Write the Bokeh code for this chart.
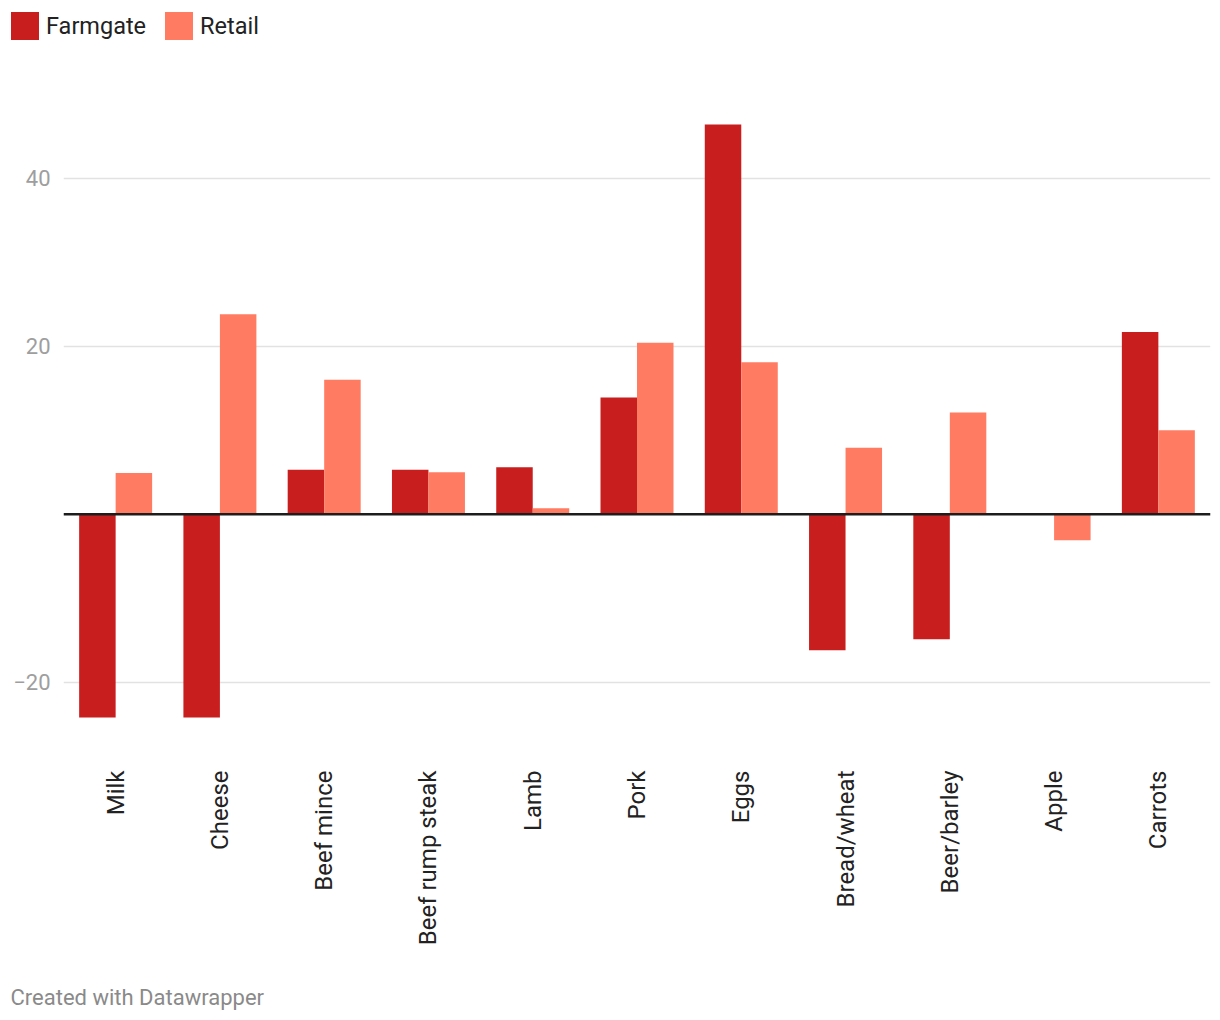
import math
from bokeh.plotting import figure
from bokeh.layouts import column
from bokeh.models import (ColumnDataSource, FixedTicker, Span, Legend, LegendItem,
                          Label, Range1d)
from bokeh.embed import file_html
from bokeh.resources import INLINE

# ---- data ----
categories = ["Milk", "Cheese", "Beef mince", "Beef rump steak", "Lamb", "Pork",
              "Eggs", "Bread/wheat", "Beer/barley", "Apple", "Carrots"]
farmgate = [-24.2, -24.2, 5.3, 5.3, 5.6, 13.9, 46.4, -16.2, -14.9, float("nan"), 21.7]
retail = [4.9, 23.8, 16.0, 5.0, 0.7, 20.4, 18.1, 7.9, 12.1, -3.1, 10.0]
y_ticks = [-20, 20, 40]
series_names = ["Farmgate", "Retail"]
series_colors = ["#c81e1e", "#ff7c63"]
footer_text = "Created with Datawrapper"

FONT = "Roboto"
W = 1212
TOP_H = 90
MAIN_H = 880
FOOT_H = 42

idx = list(range(len(categories)))
bar_w = 0.35
src = ColumnDataSource(dict(
    xf=[i - bar_w / 2 for i in idx],
    xr=[i + bar_w / 2 for i in idx],
    farmgate=farmgate,
    retail=retail,
))


def strip(height):
    f = figure(width=W, height=height, output_backend="svg", toolbar_location=None,
               x_range=Range1d(100, 101), y_range=Range1d(100, 101),
               x_axis_location=None, y_axis_location=None,
               min_border_left=0, min_border_right=0, min_border_top=0,
               min_border_bottom=0)
    f.frame_align = False
    f.outline_line_color = None
    f.xgrid.visible = False
    f.ygrid.visible = False
    return f


# ---------- legend strip (same renderers, view range kept off the data) ----------
lg = strip(TOP_H)
lf = lg.vbar(x="xf", top="farmgate", bottom=0, width=bar_w, source=src,
             fill_color=series_colors[0], line_color=None)
lr = lg.vbar(x="xr", top="retail", bottom=0, width=bar_w, source=src,
             fill_color=series_colors[1], line_color=None)
legend = Legend(items=[LegendItem(label=series_names[0], renderers=[lf]),
                       LegendItem(label=series_names[1], renderers=[lr])],
                orientation="horizontal", location=(7, 47),
                glyph_width=35, glyph_height=35, label_standoff=4, spacing=15,
                padding=0, margin=0, border_line_color=None,
                background_fill_alpha=0,
                label_text_font=FONT, label_text_font_size="23.5px",
                label_text_color="#222222", label_height=35)
lg.add_layout(legend, "center")

# ---------- main chart ----------
p = figure(width=W, height=MAIN_H, output_backend="svg", toolbar_location=None,
           x_range=Range1d(-0.5, len(categories) - 0.5),
           y_range=Range1d(-26.94, 50.44),
           min_border_left=63, min_border_right=2, min_border_top=0,
           min_border_bottom=MAIN_H - 650)
p.frame_align = False
p.outline_line_color = None
p.background_fill_color = "white"
p.border_fill_color = "white"

p.vbar(x="xf", top="farmgate", bottom=0, width=bar_w, source=src,
       fill_color=series_colors[0], line_color=None)
p.vbar(x="xr", top="retail", bottom=0, width=bar_w, source=src,
       fill_color=series_colors[1], line_color=None)

# zero line
p.add_layout(Span(location=0, dimension="width", line_color="#1d1d1d", line_width=2.5))

# y axis
yax = p.yaxis[0]
yax.ticker = FixedTicker(ticks=y_ticks)
yax.major_label_overrides = {t: (f"\u2212{abs(t)}" if t < 0 else str(t)) for t in y_ticks}
yax.axis_line_color = None
yax.major_tick_line_color = None
yax.minor_tick_line_color = None
yax.major_tick_out = 0
yax.major_tick_in = 0
yax.major_label_standoff = 13
yax.major_label_text_font = FONT
yax.major_label_text_font_size = "22px"
yax.major_label_text_color = "#9e9e9e"

p.ygrid.ticker = FixedTicker(ticks=y_ticks)
p.ygrid.grid_line_color = "#e2e2e2"
p.ygrid.grid_line_width = 1.5
p.xgrid.grid_line_color = None

# x axis (category labels)
xax = p.xaxis[0]
xax.ticker = FixedTicker(ticks=idx)
xax.major_label_overrides = {i: c for i, c in zip(idx, categories)}
xax.major_label_orientation = math.pi / 2
xax.axis_line_color = None
xax.major_tick_line_color = None
xax.minor_tick_line_color = None
xax.major_tick_out = 0
xax.major_tick_in = 0
xax.major_label_standoff = 30
xax.major_label_text_font = FONT
xax.major_label_text_font_size = "24px"
xax.major_label_text_color = "#222222"

# ---------- footer strip ----------
ft = strip(FOOT_H)
ft.add_layout(Label(x=10, y=15, x_units="screen", y_units="screen",
                    text=footer_text, text_font=FONT, text_font_size="22px",
                    text_color="#8a8a8a", text_baseline="middle", text_align="left"))

layout = column(lg, p, ft, spacing=0)
open("out.html", "w").write(file_html(layout, INLINE))
